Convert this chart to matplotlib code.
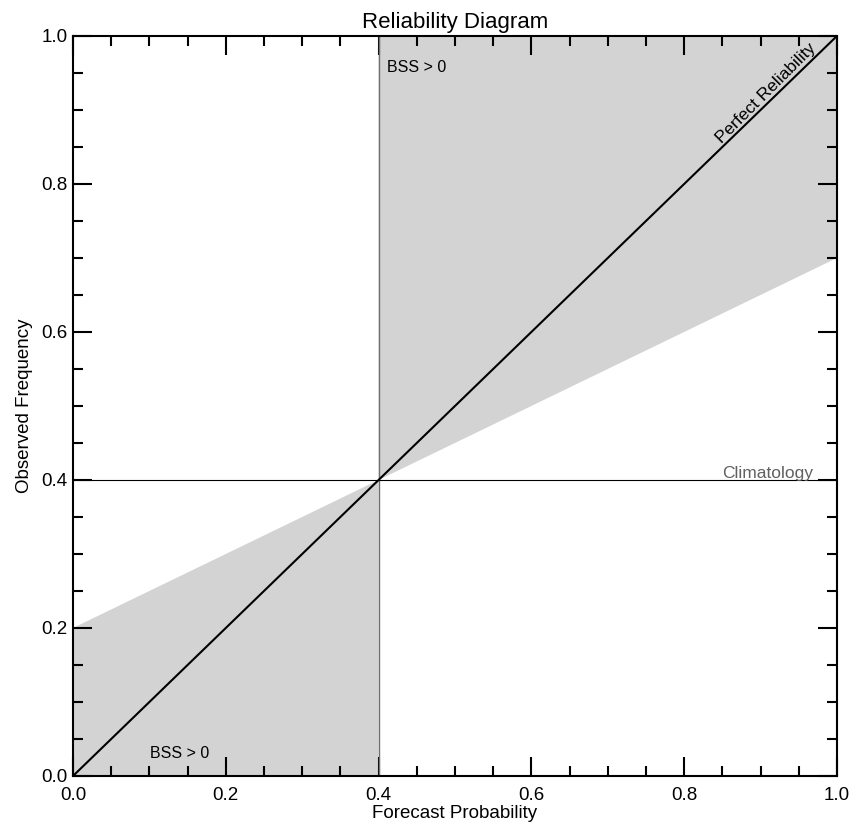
import numpy as np
import matplotlib
matplotlib.use("Agg")
import matplotlib.pyplot as plt
from matplotlib.ticker import MultipleLocator

plt.rcParams["font.family"] = ["Liberation Sans", "DejaVu Sans"]

# climatological base rate of the event
climatology = 0.4
# no-skill line: halfway between climatology and perfect reliability
noskill_x = [0.0, 1.0]
noskill_y = [(x + climatology) / 2 for x in noskill_x]

fig = plt.figure(figsize=(8.55, 8.27), dpi=100)
ax = fig.add_axes([0.0854, 0.0617, 0.8935, 0.8948])

# regions where the Brier skill score is positive
ax.fill([climatology, noskill_x[1], 1.0, climatology],
        [climatology, noskill_y[1], 1.0, 1.0], color="#d3d3d3", lw=0)
ax.fill([0.0, 0.0, climatology, climatology],
        [0.0, noskill_y[0], climatology, 0.0], color="#d3d3d3", lw=0)

ax.axvline(climatology, color="#707070", lw=1.0)
ax.axhline(climatology, color="black", lw=0.8)
ax.plot([0, 1], [0, 1], color="black", lw=1.5)

ax.text(0.969, climatology + 0.003, "Climatology", color="#606060", fontsize=12.5,
        ha="right", va="baseline")
ax.text(0.912, 0.918, "Perfect Reliability", rotation=45, fontsize=12.5,
        ha="center", va="baseline", rotation_mode="anchor")
ax.text(0.411, 0.957, "BSS > 0", fontsize=11.5, va="center")
ax.text(0.101, 0.031, "BSS > 0", fontsize=11.5, va="center")

ax.set_xlim(0, 1)
ax.set_ylim(0, 1)
ax.xaxis.set_major_locator(MultipleLocator(0.2))
ax.yaxis.set_major_locator(MultipleLocator(0.2))
ax.xaxis.set_minor_locator(MultipleLocator(0.05))
ax.yaxis.set_minor_locator(MultipleLocator(0.05))
ax.tick_params(which="both", direction="in", top=True, right=True, width=1.5,
               labelsize=13.5)
ax.tick_params(which="major", length=14)
ax.tick_params(which="minor", length=7)
ax.tick_params(axis="x", which="major", pad=8)
ax.tick_params(axis="y", which="major", pad=4)
for s in ax.spines.values():
    s.set_linewidth(1.5)

ax.set_title("Reliability Diagram", fontsize=16, pad=6)
ax.set_xlabel("Forecast Probability", fontsize=13.5, labelpad=1)
ax.set_ylabel("Observed Frequency", fontsize=13.5, labelpad=6)

fig.savefig("out.png", dpi=100)
